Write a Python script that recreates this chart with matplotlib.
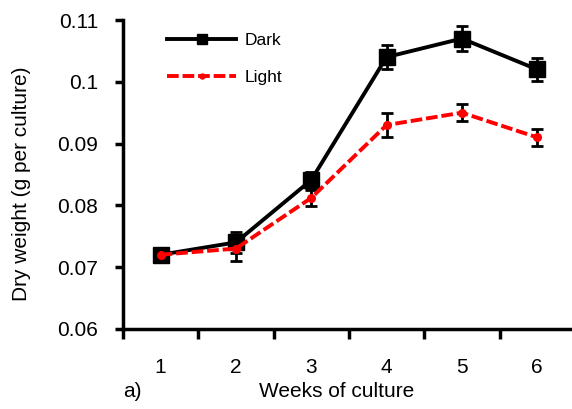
import numpy as np
import matplotlib.pyplot as plt

plt.rcParams['font.family'] = ['Liberation Sans', 'DejaVu Sans']

weeks = [1, 2, 3, 4, 5, 6]
dark = [0.072, 0.074, 0.0841, 0.104, 0.107, 0.102]
dark_err = [0.0005, 0.0017, 0.0013, 0.002, 0.002, 0.0019]
light = [0.072, 0.073, 0.0812, 0.093, 0.095, 0.091]
light_err = [0.0005, 0.002, 0.0013, 0.002, 0.0014, 0.0014]
yticks = [0.06, 0.07, 0.08, 0.09, 0.1, 0.11]
ytick_labels = ['0.06', '0.07', '0.08', '0.09', '0.1', '0.11']

fig = plt.figure(figsize=(5.72, 4.09), dpi=100)
ax = fig.add_axes([0.215, 0.196, 0.79, 0.755])

d = ax.errorbar(weeks, dark, yerr=dark_err, color='black', lw=2.8, marker='s',
                ms=12, ecolor='black', elinewidth=2, capsize=4, capthick=2,
                zorder=3)
l = ax.errorbar(weeks, light, yerr=light_err, color='#ff0000', lw=2.8, ls='--',
                dashes=(3, 1), marker='o', ms=5.5, ecolor='black',
                elinewidth=2, capsize=4, capthick=2, zorder=4)

ax.set_xlim(0.5, 6.5)
ax.set_ylim(0.06, 0.11)
ax.set_yticks(yticks)
ax.set_yticklabels(ytick_labels)
ax.set_xticks(weeks)
ax.set_xticks(np.arange(0.5, 6.0, 1.0), minor=True)
ax.tick_params(axis='x', which='major', length=0, pad=21, labelsize=15)
ax.tick_params(axis='x', which='minor', length=7, width=2.5, direction='out')
ax.tick_params(axis='y', length=6, width=2.5, direction='out', labelsize=15,
               pad=12)

for side in ['top', 'right']:
    ax.spines[side].set_visible(False)
for side in ['left', 'bottom']:
    ax.spines[side].set_linewidth(2.5)

fig.text(22 / 572, 0.55, 'Dry weight (g per culture)', fontsize=15,
         rotation=90, ha='center', va='center')
fig.text(0.589, 0.03, 'Weeks of culture', fontsize=15, ha='center')
fig.text(0.215, 0.03, 'a)', fontsize=15, ha='left')

# legend shows only the lines, with smaller markers
ax.legend([d.lines[0], l.lines[0]], ['Dark', 'Light'], loc='upper left',
          bbox_to_anchor=(167 / 572, 1 - 33 / 409),
          bbox_transform=fig.transFigure, frameon=False, fontsize=12.5,
          handlelength=4.0, handletextpad=0.45, labelspacing=1.25,
          borderpad=0, borderaxespad=0, markerscale=0.65)

fig.savefig('out.png', dpi=100)
